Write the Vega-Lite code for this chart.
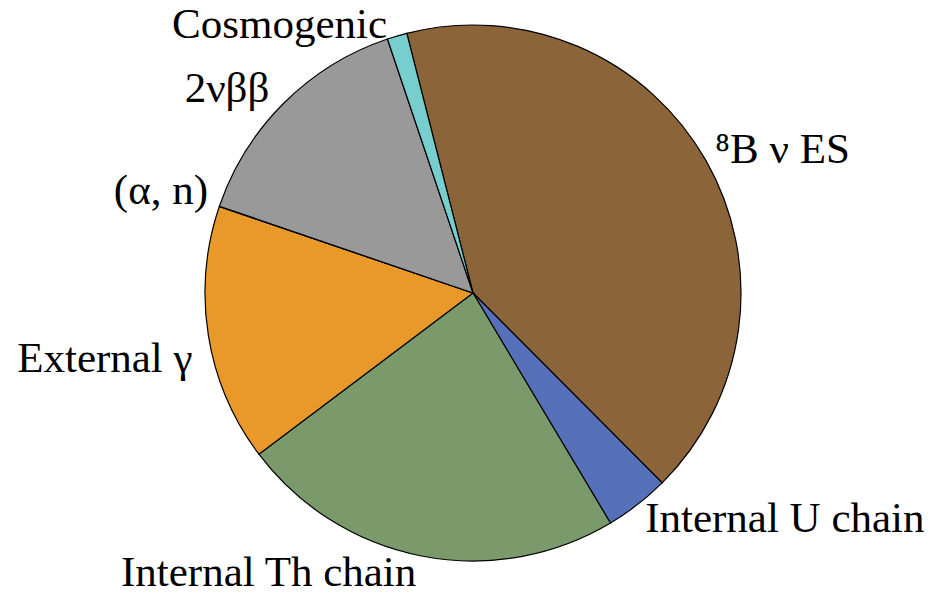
{
  "$schema": "https://vega.github.io/schema/vega-lite/v6.json",
  "width": 916,
  "height": 586,
  "autosize": "none",
  "padding": {"left": 15, "top": 0, "right": 0, "bottom": 8},
  "background": "white",
  "config": {"view": {"stroke": null}},
  "data": {
    "values": [
      {"idx": 1, "label": "⁸B ν ES", "value": 41.5},
      {"idx": 2, "label": "Internal U chain", "value": 3.9},
      {"idx": 3, "label": "Internal Th chain", "value": 23.3},
      {"idx": 4, "label": "External γ", "value": 15.5},
      {"idx": 5, "label": "(α, n)", "value": 0.02},
      {"idx": 6, "label": "2νββ", "value": 14.58},
      {"idx": 7, "label": "Cosmogenic", "value": 1.2}
    ]
  },
  "encoding": {
    "theta": {
      "field": "value",
      "type": "quantitative",
      "stack": true,
      "scale": {"domain": [0, 100], "range": [-0.2496, 6.0336], "nice": false, "zero": true}
    },
    "order": {"field": "idx", "type": "quantitative"}
  },
  "layer": [
    {
      "mark": {"type": "arc", "outerRadius": 268, "stroke": "black", "strokeWidth": 1.2},
      "encoding": {
        "color": {
          "field": "label",
          "type": "nominal",
          "scale": {
            "domain": ["⁸B ν ES", "Internal U chain", "Internal Th chain", "External γ", "(α, n)", "2νββ", "Cosmogenic"],
            "range": ["#8B6539", "#5770BA", "#7A9A6B", "#E8992A", "#E8992A", "#999999", "#77CECE"]
          },
          "legend": null
        }
      }
    },
    {
      "mark": {"type": "text", "radius": 275, "align": "left", "baseline": "alphabetic", "dx": 3, "dy": 6, "font": "Liberation Serif", "fontSize": 43, "fill": "black"},
      "encoding": {"text": {"condition": {"test": "datum.idx === 1", "field": "label", "type": "nominal"}, "value": ""}}
    },
    {
      "mark": {"type": "text", "radius": 295, "align": "left", "baseline": "alphabetic", "dx": -9, "dy": 6, "font": "Liberation Serif", "fontSize": 43, "fill": "black"},
      "encoding": {"text": {"condition": {"test": "datum.idx === 2", "field": "label", "type": "nominal"}, "value": ""}}
    },
    {
      "mark": {"type": "text", "radius": 295, "align": "right", "baseline": "alphabetic", "dx": 0, "dy": 3, "font": "Liberation Serif", "fontSize": 43, "fill": "black"},
      "encoding": {"text": {"condition": {"test": "datum.idx === 3", "field": "label", "type": "nominal"}, "value": ""}}
    },
    {
      "mark": {"type": "text", "radius": 285, "align": "right", "baseline": "alphabetic", "dx": 1, "dy": 34, "font": "Liberation Serif", "fontSize": 43, "fill": "black"},
      "encoding": {"text": {"condition": {"test": "datum.idx === 4", "field": "label", "type": "nominal"}, "value": ""}}
    },
    {
      "mark": {"type": "text", "radius": 280, "align": "right", "baseline": "alphabetic", "dx": 0, "dy": 1, "font": "Liberation Serif", "fontSize": 43, "fill": "black"},
      "encoding": {"text": {"condition": {"test": "datum.idx === 5", "field": "label", "type": "nominal"}, "value": ""}}
    },
    {
      "mark": {"type": "text", "radius": 283, "align": "right", "baseline": "alphabetic", "dx": -4, "dy": 10, "font": "Liberation Serif", "fontSize": 43, "fill": "black"},
      "encoding": {"text": {"condition": {"test": "datum.idx === 6", "field": "label", "type": "nominal"}, "value": ""}}
    },
    {
      "mark": {"type": "text", "radius": 268, "align": "right", "baseline": "alphabetic", "dx": -10, "dy": 2, "font": "Liberation Serif", "fontSize": 43, "fill": "black"},
      "encoding": {"text": {"condition": {"test": "datum.idx === 7", "field": "label", "type": "nominal"}, "value": ""}}
    }
  ]
}
